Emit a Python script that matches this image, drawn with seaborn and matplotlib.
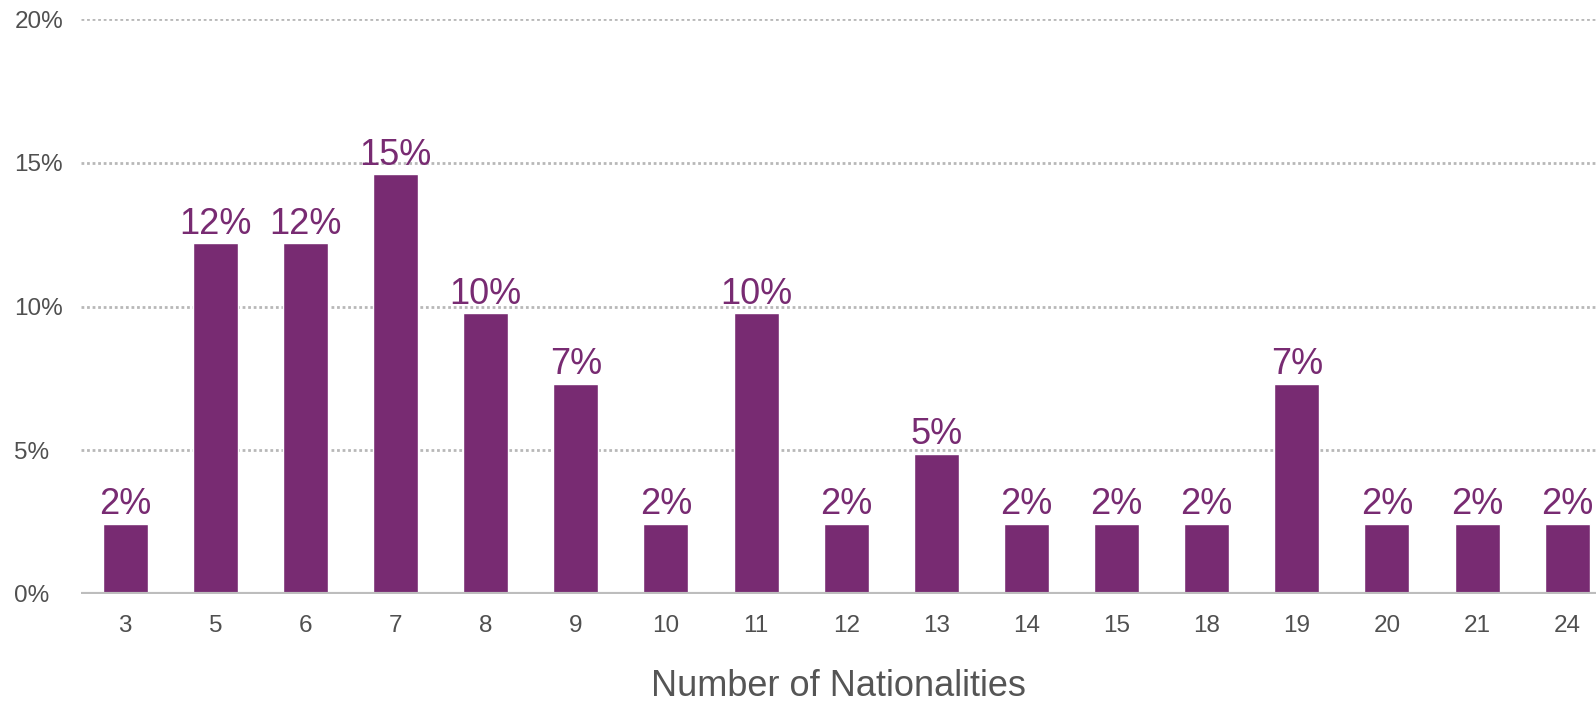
import matplotlib
matplotlib.use('Agg')
import matplotlib.pyplot as plt
import seaborn as sns
import pandas as pd

# share of respondents by number of nationalities
nationalities = ["3", "5", "6", "7", "8", "9", "10", "11", "12", "13", "14", "15", "18", "19", "20", "21", "24"]
share = [2.44, 12.2, 12.2, 14.6, 9.76, 7.32, 2.44, 9.76, 2.44, 4.88, 2.44, 2.44, 2.44, 7.32, 2.44, 2.44, 2.44]
y_ticks = [0, 5, 10, 15, 20]

bar_color = "#782B72"

sns.set_style("white")
plt.rcParams['font.family'] = ['Liberation Sans', 'DejaVu Sans']

df = pd.DataFrame({"n": nationalities, "share": share})

fig = plt.figure(figsize=(15.96, 7.06), dpi=100)
ax = fig.add_axes([81 / 1596, 1 - 594 / 706, 1 - 81 / 1596, (594 - 19) / 706])

sns.barplot(data=df, x="n", y="share", order=nationalities, color=bar_color,
            width=0.5, saturation=1, ax=ax, zorder=3)

# value labels on top of each bar
for p, v in zip(ax.patches, share):
    ax.annotate(f"{v:.0f}%", (p.get_x() + p.get_width() / 2, p.get_height()),
                xytext=(0, 1), textcoords="offset points", ha="center", va="bottom",
                fontsize=26, color=bar_color, zorder=4)

ax.set_xlim(-0.49, 16.32)
ax.set_ylim(0, 20)
ax.set_yticks(y_ticks)
ax.set_yticklabels([f"{t}%" for t in y_ticks])
ax.grid(axis="y", color="#b8b8b8", linestyle=(0, (1, 1)), linewidth=2, zorder=0)
ax.grid(axis="x", visible=False)
ax.axhline(0, color="#bdbdbd", linewidth=3, zorder=5)

for s in ax.spines.values():
    s.set_visible(False)

ax.tick_params(axis="both", length=0, labelsize=17.5, colors="#505050")
ax.tick_params(axis="x", pad=15)
# left-aligned y labels near the figure edge
ax.tick_params(axis="y", pad=48)
for lbl in ax.get_yticklabels():
    lbl.set_horizontalalignment("left")

ax.set_xlabel("Number of Nationalities", fontsize=26, color="#555555", labelpad=23)
ax.set_ylabel("")

fig.savefig("out.png", dpi=100)
plt.close()
